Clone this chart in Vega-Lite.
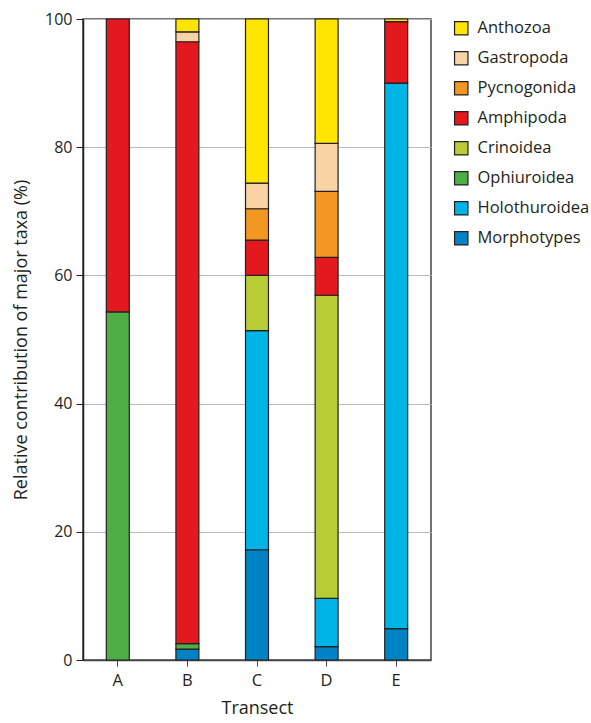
{
  "$schema": "https://vega.github.io/schema/vega-lite/v6.json",
  "width": 348,
  "height": 641,
  "autosize": {"type": "none"},
  "padding": {"left": 83, "top": 19, "right": 160, "bottom": 63},
  "background": "white",
  "config": {
    "font": "Open Sans",
    "view": {"stroke": "#444", "strokeWidth": 1.5},
    "axis": {"labelFont": "Open Sans", "titleFont": "Open Sans", "labelColor": "#231F20", "titleColor": "#231F20", "titleFontWeight": "normal"}
  },
  "data": {
    "values": [
      {"transect": "A", "taxon": "Ophiuroidea", "pct": 54.3},
      {"transect": "A", "taxon": "Amphipoda", "pct": 45.7},
      {"transect": "B", "taxon": "Morphotypes", "pct": 1.7},
      {"transect": "B", "taxon": "Ophiuroidea", "pct": 0.85},
      {"transect": "B", "taxon": "Amphipoda", "pct": 93.9},
      {"transect": "B", "taxon": "Gastropoda", "pct": 1.55},
      {"transect": "B", "taxon": "Anthozoa", "pct": 2.0},
      {"transect": "C", "taxon": "Morphotypes", "pct": 17.2},
      {"transect": "C", "taxon": "Holothuroidea", "pct": 34.2},
      {"transect": "C", "taxon": "Crinoidea", "pct": 8.6},
      {"transect": "C", "taxon": "Amphipoda", "pct": 5.5},
      {"transect": "C", "taxon": "Pycnogonida", "pct": 4.9},
      {"transect": "C", "taxon": "Gastropoda", "pct": 4.0},
      {"transect": "C", "taxon": "Anthozoa", "pct": 25.6},
      {"transect": "D", "taxon": "Morphotypes", "pct": 2.1},
      {"transect": "D", "taxon": "Holothuroidea", "pct": 7.5},
      {"transect": "D", "taxon": "Crinoidea", "pct": 47.3},
      {"transect": "D", "taxon": "Amphipoda", "pct": 5.9},
      {"transect": "D", "taxon": "Pycnogonida", "pct": 10.3},
      {"transect": "D", "taxon": "Gastropoda", "pct": 7.5},
      {"transect": "D", "taxon": "Anthozoa", "pct": 19.4},
      {"transect": "E", "taxon": "Morphotypes", "pct": 4.9},
      {"transect": "E", "taxon": "Holothuroidea", "pct": 85.1},
      {"transect": "E", "taxon": "Amphipoda", "pct": 9.6},
      {"transect": "E", "taxon": "Anthozoa", "pct": 0.4}
    ]
  },
  "transform": [
    {"calculate": "indexof(['Morphotypes','Holothuroidea','Ophiuroidea','Crinoidea','Amphipoda','Pycnogonida','Gastropoda','Anthozoa'], datum.taxon)", "as": "stackOrder"}
  ],
  "mark": {"type": "bar", "stroke": "#231F20", "strokeWidth": 1.2},
  "encoding": {
    "x": {
      "field": "transect", "type": "nominal",
      "scale": {"paddingInner": 0.67, "paddingOuter": 0.335},
      "axis": {"title": "Transect", "labelAngle": 0, "labelFontSize": 16.5, "titleFontSize": 18, "tickSize": 6, "tickColor": "#444", "domainColor": "#444", "domainWidth": 1.5, "labelPadding": 6, "titlePadding": 11, "grid": false}
    },
    "y": {
      "field": "pct", "type": "quantitative", "stack": "zero",
      "scale": {"domain": [0, 100], "nice": false},
      "axis": {"title": "Relative contribution of major taxa (%)", "values": [0, 20, 40, 60, 80, 100], "labelFontSize": 16, "titleFontSize": 18, "tickSize": 7, "tickColor": "#231F20", "domainColor": "#231F20", "domainWidth": 1.5, "labelPadding": 4, "titlePadding": 14, "grid": true, "gridColor": "#BBBBBB", "gridWidth": 1}
    },
    "color": {
      "field": "taxon", "type": "nominal",
      "scale": {
        "domain": ["Anthozoa", "Gastropoda", "Pycnogonida", "Amphipoda", "Crinoidea", "Ophiuroidea", "Holothuroidea", "Morphotypes"],
        "range": ["#FFE500", "#F8D3A4", "#F29822", "#E3191E", "#B7CC35", "#4DAE45", "#00B4E5", "#0083C5"]
      },
      "legend": {
        "title": null, "orient": "none", "legendX": 370, "legendY": 1,
        "symbolType": "square", "symbolSize": 180, "symbolStrokeColor": "#231F20", "symbolStrokeWidth": 1.2, "symbolOpacity": 1,
        "labelFontSize": 16.5, "labelFont": "Open Sans", "labelColor": "#231F20", "rowPadding": 11, "labelOffset": 8, "labelLimit": 200
      }
    },
    "order": {"field": "stackOrder", "type": "quantitative", "sort": "ascending"}
  }
}
